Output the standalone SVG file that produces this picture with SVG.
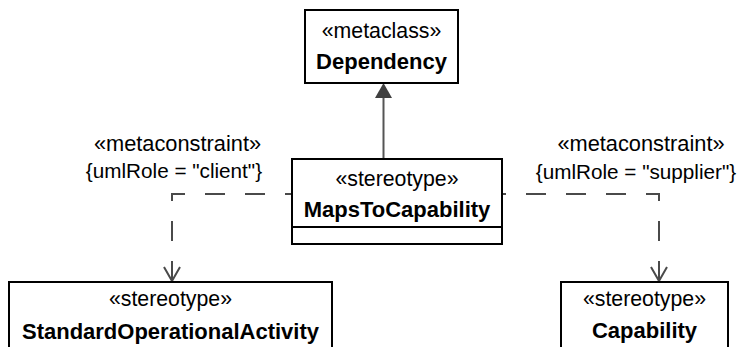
<svg xmlns="http://www.w3.org/2000/svg" width="738" height="347" viewBox="0 0 738 347">
<style>
.box{fill:#fff;stroke:#000;stroke-width:2}
.st{font-family:"Liberation Sans",Arial,sans-serif;font-size:21.3px;fill:#000;text-anchor:middle}
.nm{font-family:"Liberation Sans",Arial,sans-serif;font-size:22px;font-weight:bold;fill:#000;text-anchor:middle}
.lbl{font-family:"Liberation Sans",Arial,sans-serif;font-size:20.7px;fill:#000;text-anchor:middle}
.mc{font-family:"Liberation Sans",Arial,sans-serif;font-size:21.8px;fill:#000;text-anchor:middle}
.dash{fill:none;stroke:#4a4a4a;stroke-width:2;stroke-dasharray:20 20}
.solid{fill:none;stroke:#555;stroke-width:2}
.open{fill:none;stroke:#4a4a4a;stroke-width:2}
</style>
<rect width="738" height="347" fill="#fff"/>
<g id="connectors">
<g id="generalization">
<line class="solid" x1="383.5" y1="159" x2="383.5" y2="96"/>
<polygon points="383.5,83 375,98 392,98" fill="#404040"/>
</g>
<g id="dep-client">
<path class="dash" d="M172,281 V194 H292"/>
<polyline class="open" points="164,267 172,281 180,267"/>
<text class="mc" x="177.5" y="150.5">«metaconstraint»</text>
<text class="lbl" x="174" y="178">{umlRole = "client"}</text>
</g>
<g id="dep-supplier">
<path class="dash" d="M659,281 V194 H502"/>
<polyline class="open" points="651,267 659,281 667,267"/>
<text class="mc" x="641" y="150.5">«metaconstraint»</text>
<text class="lbl" x="636" y="179">{umlRole = "supplier"}</text>
</g>
</g>
<g id="Dependency">
<rect class="box" x="305" y="10" width="153" height="73"/>
<text class="st" x="381.5" y="37.5">«metaclass»</text>
<text class="nm" x="381.5" y="68.5">Dependency</text>
</g>
<g id="MapsToCapability">
<rect class="box" x="292" y="159" width="210" height="85"/>
<line x1="292" y1="227" x2="502" y2="227" stroke="#000" stroke-width="2"/>
<text class="st" x="397" y="186">«stereotype»</text>
<text class="nm" x="397" y="217">MapsToCapability</text>
</g>
<g id="StandardOperationalActivity">
<rect class="box" x="9" y="282" width="323" height="80"/>
<text class="st" x="170.5" y="306">«stereotype»</text>
<text class="nm" x="170.5" y="338.5">StandardOperationalActivity</text>
</g>
<g id="Capability">
<rect class="box" x="561" y="282" width="167" height="80"/>
<text class="st" x="644.5" y="306">«stereotype»</text>
<text class="nm" x="644.5" y="337.5">Capability</text>
</g>
</svg>
